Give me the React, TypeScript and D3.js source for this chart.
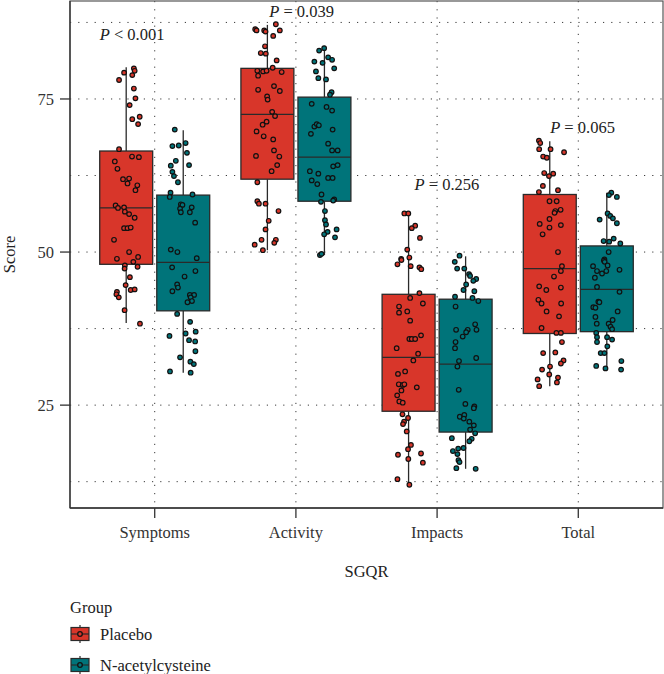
import React from "react";
import * as d3 from "d3";

const categories = ["Symptoms", "Activity", "Impacts", "Total"];
const groups = ["Placebo", "N-acetylcysteine"];
const groupColors = ["#D8362A", "#00747A"];
const yTicks = [25, 50, 75];
const yGrid = [12.5, 25, 37.5, 50, 62.5, 75, 87.5];
const pLabels = ["< 0.001", "= 0.039", "= 0.256", "= 0.065"];
const pLabelY = [84.6, 88.4, 60.1, 69.4];
const pLabelShift = [-0.16, 0.04, 0.07, 0.03];

// box stats: [lower whisker, q1, median, q3, upper whisker]
const placeboStats = [
  [38.4, 48.0, 57.2, 66.5, 80.2],
  [50.3, 61.9, 72.5, 80.0, 87.1],
  [11.9, 24.0, 32.8, 43.1, 56.3],
  [28.1, 36.7, 47.3, 59.4, 68.1],
];
const nacStats = [
  [30.3, 40.4, 48.3, 59.3, 69.9],
  [49.5, 58.3, 65.5, 75.3, 83.2],
  [14.6, 20.6, 31.7, 42.3, 49.3],
  [31.0, 37.0, 43.9, 51.0, 59.7],
];

// points: [jitter (fraction of half box width), score]
const placeboSymptoms = [[0.29,80.0],[0.32,79.6],[0.23,78.9],[-0.08,79.3],[-0.27,78.1],[0.29,76.7],[0.35,75.1],[0.13,74.0],[0.51,72.1],[0.23,71.7],[0.45,70.9],[-0.27,66.8],[0.22,65.6],[0.48,65.5],[-0.43,64.8],[-0.33,63.6],[-0.12,61.9],[0.11,62.0],[0.05,61.2],[0.42,60.9],[0.35,60.1],[-0.40,57.6],[-0.31,57.2],[-0.08,57.3],[-0.05,56.6],[0.11,56.2],[0.32,55.6],[-0.08,53.9],[0.05,53.9],[0.17,54.0],[-0.46,52.0],[0.11,50.0],[0.45,49.2],[-0.35,48.9],[0.27,48.4],[-0.05,47.8],[-0.06,47.3],[0.43,47.6],[0.14,45.9],[-0.02,44.6],[0.17,43.8],[0.32,43.9],[-0.35,43.5],[-0.37,43.1],[-0.28,42.6],[-0.06,40.5],[0.52,38.3]];
const nacSymptoms = [[-0.32,70.0],[-0.41,67.3],[-0.17,67.4],[0.09,67.8],[0.14,66.2],[-0.28,64.9],[0.22,64.2],[-0.47,64.1],[-0.41,63.1],[-0.35,62.4],[-0.20,61.4],[-0.48,59.7],[-0.51,59.0],[0.35,59.4],[-0.09,57.8],[-0.03,57.7],[-0.12,57.1],[-0.09,56.5],[0.25,56.5],[0.32,57.3],[0.45,54.8],[-0.47,50.4],[-0.22,50.0],[0.51,49.0],[-0.42,47.5],[0.05,46.0],[0.46,46.9],[-0.23,44.7],[-0.20,44.2],[-0.41,43.6],[0.25,43.0],[0.41,43.0],[0.28,42.6],[0.33,42.0],[0.16,41.8],[-0.23,39.9],[0.26,38.6],[-0.52,36.3],[0.09,36.7],[0.47,37.0],[0.22,35.6],[0.45,35.4],[0.46,33.8],[-0.12,32.8],[0.27,32.1],[0.40,31.7],[-0.50,30.5],[0.28,30.3]];
const placeboActivity = [[-0.46,86.4],[-0.41,86.2],[-0.12,86.2],[-0.07,86.0],[0.32,87.2],[0.47,86.2],[0.22,85.3],[-0.09,83.6],[-0.25,82.5],[-0.06,82.4],[0.35,81.3],[-0.38,79.6],[-0.16,79.5],[-0.03,79.6],[0.20,80.1],[0.54,79.4],[-0.35,78.8],[0.25,77.1],[0.47,76.3],[-0.35,76.5],[-0.01,75.4],[0.01,74.9],[0.18,72.9],[0.29,72.2],[-0.03,71.3],[-0.18,70.8],[-0.41,69.7],[-0.14,68.9],[0.22,68.4],[0.25,66.6],[0.45,65.6],[-0.43,65.7],[0.37,64.2],[0.16,63.2],[-0.38,61.4],[-0.38,58.3],[-0.32,57.9],[-0.07,57.9],[0.42,56.7],[0.05,55.1],[-0.07,53.7],[0.32,52.0],[-0.22,52.0],[0.26,51.5],[-0.48,51.2],[-0.17,50.3]];
const nacActivity = [[-0.01,83.3],[-0.20,82.9],[-0.38,81.1],[-0.07,80.9],[0.14,81.8],[0.29,81.4],[0.37,80.0],[-0.32,79.5],[-0.23,78.4],[0.06,78.2],[0.27,76.1],[0.21,75.7],[-0.48,74.2],[0.08,73.7],[0.29,73.1],[-0.38,70.5],[-0.29,70.9],[-0.21,70.7],[-0.51,69.3],[0.31,70.0],[0.14,67.7],[0.29,66.6],[0.50,66.6],[0.33,64.0],[0.50,64.2],[-0.55,63.2],[-0.23,62.8],[-0.48,61.7],[-0.27,61.1],[0.14,62.1],[0.31,62.1],[-0.11,59.4],[0.37,58.6],[0.33,58.4],[-0.13,58.2],[0.02,56.7],[0.02,55.2],[0.06,54.5],[0.12,53.3],[-0.01,52.9],[0.46,53.7],[0.40,52.4],[-0.17,49.5],[-0.11,49.7]];
const placeboImpacts = [[-0.16,56.3],[-0.01,56.3],[0.25,54.3],[0.12,53.9],[0.43,52.3],[-0.05,50.4],[-0.28,48.9],[0.03,49.1],[-0.42,48.0],[-0.27,48.7],[0.08,47.7],[0.41,47.5],[0.48,47.2],[0.41,43.3],[0.06,42.5],[0.54,41.6],[-0.36,41.1],[-0.05,40.3],[-0.36,40.1],[0.06,38.8],[0.03,35.8],[0.12,35.8],[0.25,35.8],[0.47,36.4],[-0.45,34.3],[0.36,33.4],[0.18,32.3],[-0.40,30.1],[-0.13,30.5],[-0.37,28.4],[-0.22,28.3],[-0.16,28.4],[-0.27,27.4],[0.31,27.9],[-0.43,26.6],[-0.35,25.6],[-0.22,25.4],[-0.23,23.5],[-0.02,22.9],[-0.17,22.3],[-0.21,21.9],[-0.07,20.7],[0.09,18.5],[-0.02,17.8],[-0.40,16.9],[-0.01,16.2],[0.47,17.1],[0.54,15.6],[-0.42,12.9],[0.03,12.0]];
const nacImpacts = [[-0.23,49.4],[-0.41,48.4],[-0.32,47.3],[-0.05,47.3],[0.13,46.4],[0.17,46.1],[0.40,45.6],[0.29,45.3],[0.02,44.7],[0.33,43.6],[-0.08,43.8],[0.26,42.5],[0.48,42.0],[-0.40,42.7],[-0.38,41.1],[-0.36,37.3],[0.08,37.3],[0.41,37.3],[0.36,38.2],[0.02,36.9],[-0.11,36.2],[-0.38,35.3],[-0.40,34.3],[0.40,32.7],[-0.25,32.2],[-0.31,31.3],[-0.26,27.5],[-0.01,25.2],[0.33,24.8],[0.31,24.5],[-0.22,23.1],[-0.05,23.4],[-0.07,22.8],[0.14,22.3],[0.31,21.7],[0.17,21.0],[0.36,20.4],[0.23,19.5],[0.14,19.1],[-0.52,19.6],[-0.08,18.0],[-0.48,17.5],[-0.28,17.9],[-0.31,17.0],[-0.27,16.0],[-0.23,15.7],[-0.35,14.7],[0.38,14.6]];
const placeboTotal = [[-0.41,68.2],[-0.36,67.8],[-0.40,66.8],[0.03,66.8],[0.54,66.3],[-0.25,65.6],[-0.11,65.4],[-0.21,62.9],[0.13,62.8],[-0.03,62.4],[-0.26,60.8],[0.31,60.1],[-0.41,59.8],[-0.01,58.3],[0.26,58.3],[0.41,56.9],[0.21,56.7],[0.18,56.4],[-0.01,55.4],[-0.38,54.6],[0.42,54.4],[-0.01,54.0],[-0.27,52.9],[0.31,50.0],[0.46,47.7],[0.42,46.9],[0.16,46.0],[-0.40,44.4],[-0.13,43.8],[0.42,44.2],[-0.43,42.2],[-0.31,41.6],[-0.12,40.3],[0.43,41.6],[0.35,39.5],[-0.31,37.6],[0.25,36.8],[0.42,36.8],[0.46,35.3],[-0.25,33.5],[0.21,33.6],[0.52,32.3],[0.42,31.8],[-0.29,30.8],[0.01,31.3],[-0.02,30.0],[0.31,29.5],[0.27,28.7],[-0.46,29.2],[-0.40,28.1]];
const nacTotal = [[0.17,59.7],[0.08,59.3],[0.38,59.0],[0.03,56.3],[0.13,55.9],[0.23,55.5],[-0.27,55.3],[0.38,54.7],[0.26,52.2],[-0.12,51.8],[0.09,51.7],[0.07,50.0],[-0.09,48.8],[0.51,51.4],[-0.11,48.6],[-0.08,48.4],[0.03,47.8],[-0.52,47.7],[-0.37,46.9],[-0.18,46.5],[-0.02,46.9],[0.48,47.1],[-0.45,45.8],[-0.37,44.3],[0.48,43.5],[-0.32,41.9],[-0.28,41.8],[-0.51,41.0],[-0.43,40.9],[0.41,40.3],[-0.43,39.4],[0.22,38.9],[0.07,38.3],[0.14,37.8],[0.20,37.4],[-0.38,38.3],[-0.40,36.8],[-0.37,36.1],[0.01,36.1],[0.20,35.7],[-0.37,35.3],[0.02,34.6],[-0.23,33.5],[-0.09,33.5],[0.55,32.2],[-0.40,31.4],[-0.05,31.0],[0.54,30.8]];

const placeboPoints = [placeboSymptoms, placeboActivity, placeboImpacts, placeboTotal];
const nacPoints = [nacSymptoms, nacActivity, nacImpacts, nacTotal];

const W = 664, H = 674;
const M = { left: 70, right: 663, top: 1, bottom: 508 };
const FONT = "'Liberation Serif', 'Times New Roman', serif";
const FS = 16.5;

export default function App() {
  const x = d3.scalePoint<string>().domain(categories).range([M.left, M.right]).padding(0.6);
  const y = d3.scaleLinear().domain([8.2, 91.0]).range([M.bottom, M.top]);
  const step = x.step();
  const dodge = d3.scaleOrdinal<string, number>().domain(groups).range([-0.202 * step, 0.202 * step]);
  const boxW = 0.375 * step;
  const jitter = d3.scaleLinear().domain([-1, 1]).range([-boxW / 2, boxW / 2]);
  const stats = [placeboStats, nacStats];
  const pts = [placeboPoints, nacPoints];
  const strokeC = "#2a2a2a";
  const gridC = "#3a3a3a";

  return (
    <svg width={W} height={H} style={{ position: "absolute", left: 0, top: 0, background: "#fff" }} fontFamily={FONT}>
      {yGrid.map((v) => (
        <line key={"gy" + v} x1={M.left} x2={M.right} y1={y(v)} y2={y(v)} stroke={gridC} strokeWidth={1} strokeDasharray="1.2,7" />
      ))}
      {categories.map((c) => (
        <line key={"gx" + c} x1={x(c)} x2={x(c)} y1={M.top} y2={M.bottom} stroke={gridC} strokeWidth={1} strokeDasharray="1.2,7" />
      ))}
      <rect x={M.left} y={M.top} width={M.right - M.left} height={M.bottom - M.top} fill="none" stroke="#555" strokeWidth={1.2} />
      {groups.map((g, gi) =>
        categories.map((c, ci) => {
          const [lo, q1, med, q3, hi] = stats[gi][ci];
          const cx = (x(c) as number) + dodge(g);
          return (
            <g key={g + c}>
              <line x1={cx} x2={cx} y1={y(hi)} y2={y(q3)} stroke={strokeC} strokeWidth={1.3} />
              <line x1={cx} x2={cx} y1={y(q1)} y2={y(lo)} stroke={strokeC} strokeWidth={1.3} />
              <rect x={cx - boxW / 2} y={y(q3)} width={boxW} height={y(q1) - y(q3)} fill={groupColors[gi]} stroke={strokeC} strokeWidth={1.3} />
              <line x1={cx - boxW / 2} x2={cx + boxW / 2} y1={y(med)} y2={y(med)} stroke={strokeC} strokeWidth={1.3} />
            </g>
          );
        })
      )}
      {groups.map((g, gi) =>
        categories.map((c, ci) => {
          const cx = (x(c) as number) + dodge(g);
          return pts[gi][ci].map(([j, v], k) => (
            <circle key={g + c + k} cx={cx + jitter(j)} cy={y(v)} r={2.3} fill={groupColors[gi]} stroke="#111" strokeWidth={1.2} />
          ));
        })
      )}
      {categories.map((c, ci) => (
        <text key={"p" + c} x={(x(c) as number) + pLabelShift[ci] * step} y={y(pLabelY[ci])} textAnchor="middle" fontSize={FS} fill="#222">
          <tspan fontStyle="italic">P</tspan> {pLabels[ci]}
        </text>
      ))}
      <line x1={M.left} x2={M.left} y1={M.top} y2={M.bottom} stroke="#333" strokeWidth={1.3} />
      <line x1={M.left} x2={M.right} y1={M.bottom} y2={M.bottom} stroke="#333" strokeWidth={1.3} />
      {yTicks.map((t) => (
        <g key={"yt" + t}>
          <line x1={M.left - 10} x2={M.left} y1={y(t)} y2={y(t)} stroke="#333" strokeWidth={1.3} />
          <text x={M.left - 16} y={y(t)} dy="0.35em" textAnchor="end" fontSize={FS} fill="#333">{t}</text>
        </g>
      ))}
      {categories.map((c) => (
        <g key={"xt" + c}>
          <line x1={x(c)} x2={x(c)} y1={M.bottom} y2={M.bottom + 10} stroke="#333" strokeWidth={1.3} />
          <text x={x(c)} y={M.bottom + 30} textAnchor="middle" fontSize={FS} fill="#333">{c}</text>
        </g>
      ))}
      <text transform={`translate(15, ${(M.top + M.bottom) / 2}) rotate(-90)`} textAnchor="middle" fontSize={FS} fill="#222">Score</text>
      <text x={(M.left + M.right) / 2} y={577} textAnchor="middle" fontSize={FS} fill="#222">SGQR</text>
      <text x={70} y={613} fontSize={FS} fill="#222">Group</text>
      {groups.map((g, gi) => {
        const cy = 634 + gi * 31;
        return (
          <g key={"lg" + g}>
            <line x1={80} x2={80} y1={cy - 9} y2={cy + 9} stroke={strokeC} strokeWidth={1.2} />
            <rect x={71} y={cy - 6.5} width={18} height={13} fill={groupColors[gi]} stroke={strokeC} strokeWidth={1.2} />
            <line x1={71} x2={89} y1={cy} y2={cy} stroke={strokeC} strokeWidth={1.2} />
            <circle cx={80} cy={cy} r={2.3} fill={groupColors[gi]} stroke="#111" strokeWidth={1.3} />
            <text x={100} y={cy} dy="0.35em" fontSize={FS} fill="#222">{g}</text>
          </g>
        );
      })}
    </svg>
  );
}
